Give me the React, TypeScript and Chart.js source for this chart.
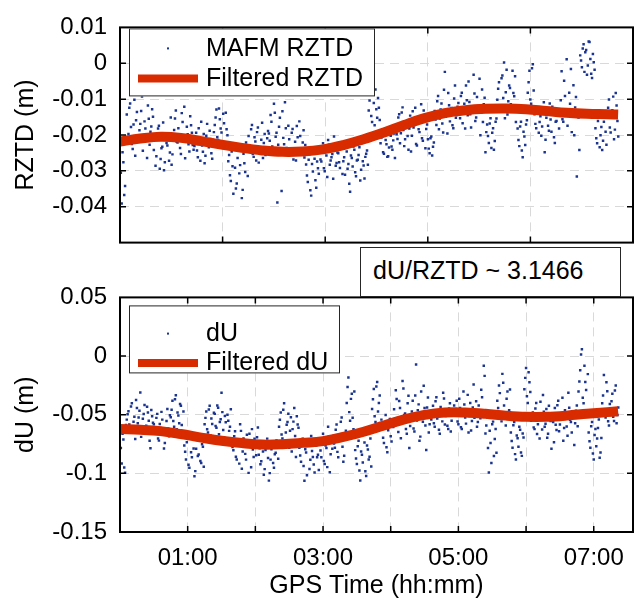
import React, { useEffect, useRef } from 'react';
import { Chart, registerables } from 'chart.js';

Chart.register(...registerables);

// ---------- DATA ----------
const SAMPLE_STEP_H = 0.025; // hours between scatter samples (set B is offset by half a step)
const X_MAX_H = 7.58; // right edge of the time axis (hours)

// MAFM RZTD scatter (mm), set A
const rztdScatterMm = [
  -22.4, -39.1, -27.6, -34.2,
  -14.3, -19.7, -11.2, -22.5, -17.1, -25.8, -13.6, -20.4, -16.9, -9.3, -21.7, -18.2, -26.4, -15.5, -19.1, -12.8,
  -24.2, -28.6, -20.1, -17.4, -26.7, -23.3, -29.8, -19.5, -22.9, -27.2, -15.1, -25.4,
  -18.6, -13.2, -22.1, -20.7, -25.3, -16.4, -12.1, -21.5, -19.8, -24.6, -17.3, -22.8,
  -23.1, -19.4, -26.2, -21.6, -16.3, -24.7, -27.9, -20.2, -22.4, -18.8, -25.1, -21.3,
  -17.2, -12.9, -21.4, -15.6, -19.3, -14.1, -23.5, -18.4,
  -27.3, -31.2, -24.6, -36.4, -29.1, -33.5, -22.7, -28.4, -37.6, -25.2, -30.3, -23.8,
  -20.3, -24.5, -17.2, -26.1, -21.8, -19.2, -27.7, -23.4, -16.6, -22.2, -25.6, -20.9,
  -19.6, -14.4, -23.2, -11.3, -20.5, -38.8, -17.7, -25.3, -13.4, -22.6, -18.1, -24.3,
  -21.2, -25.5, -18.3, -23.7, -27.1, -20.6, -16.2, -24.4, -22.1, -26.3,
  -28.2, -33.1, -25.4, -36.9, -30.2, -26.6, -34.7, -29.3,
  -24.1, -27.4, -22.3, -30.1, -25.7, -21.4, -28.3, -26.2, -32.2, -23.6, -27.8,
  -25.1, -29.2, -22.4, -27.3, -31.1, -24.6, -28.1, -35.8, -26.4, -23.2, -30.4, -27.1, -25.6, -32.7, -22.2, -28.5, -26.1, -24.3,
  -13.2, -8.6, -16.4, -11.1, -7.3, -15.2, -12.4,
  -22.3, -19.1, -25.2, -21.4, -26.1, -23.5, -20.2, -24.1, -19.6,
  -17.4, -21.1, -14.2, -19.5, -12.3, -23.1, -16.5, -20.3, -18.2, -24.6, -13.4, -17.2, -22.5, -15.3, -19.2, -11.4, -21.6, -16.1, -18.3,
  -21.2, -25.1, -20.4, -23.3,
  -13.3, -17.2, -9.1, -15.4, -11.2, -19.3, -2.4, -14.1, -8.3, -16.2, -12.5, -18.1, -6.2, -14.4,
  -11.1, -15.3, -8.2, -13.4, -18.2, -10.3, -5.1, -14.2, -12.3, -3.2, -16.1, -9.4, -13.2, -20.1, -7.3, -11.4, -24.8,
  -17.1, -22.2, -15.3, -19.4, -24.1, -16.3,
  -10.2, -5.3, -12.1, -3.4, 0.2, -8.1, -14.3, -6.2, -11.4, -2.1, -9.2, -16.4,
  -18.2, -23.1, -16.3, -26.2, -20.4, -17.1,
  -8.2, -2.1, -11.3, -0.3,
  -14.2, -18.1, -12.3, -16.4, -20.2, -13.1, -24.8, -15.2, -17.4, -11.2, -19.1, -14.3, -22.2, -16.1, -13.4,
  -13.1, -2.2, -16.3, -9.1, 1.1, -14.2, -11.3, -19.2, -6.1, -12.3, -31.6, -15.1,
  2.2, -1.1, 5.3, 3.1, -3.2, 6.1, 1.2, -4.1, 0.3,
  -18.1, -22.3, -14.2, -20.1, -24.2, -16.3, -19.1,
  -15.2, -10.1, -19.3, -13.1, -21.2, -8.3, -16.1,
];

// MAFM RZTD scatter (mm), set B (half-step later)
const rztdScatterMmB = [
  -30.5, -24.8, -36.7, -21.3,
  -20.6, -12.4, -17.8, -23.9, -10.2, -15.9, -21.1, -18.7, -13.3, -24.4, -16.2, -19.9, -11.8, -22.7, -17.6, -14.9,
  -21.3, -25.9, -18.2, -29.4, -23.7, -16.5, -27.6, -22.2, -19.8, -24.9, -28.3, -20.7,
  -15.4, -21.9, -18.1, -23.6, -13.9, -20.3, -26.5, -17.7, -22.6, -14.8, -19.4, -24.1,
  -20.8, -24.3, -18.1, -27.2, -22.9, -19.7, -25.8, -16.9, -23.4, -21.1, -26.6, -19.2,
  -15.1, -20.6, -12.6, -18.2, -22.4, -16.7, -13.8, -20.1,
  -25.6, -32.8, -28.7, -23.1, -34.9, -26.4, -30.7, -24.2, -35.3, -27.9, -22.1, -31.4,
  -22.9, -18.4, -25.3, -20.6, -27.1, -17.9, -23.8, -21.3, -26.4, -19.7, -24.2, -18.9,
  -21.6, -16.3, -24.9, -13.8, -19.4, -22.7, -15.2, -35.6, -20.8, -10.9, -23.6, -17.4,
  -23.9, -19.4, -26.8, -21.9, -17.5, -25.1, -20.3, -24.6, -18.7, -22.8,
  -31.3, -26.9, -35.4, -28.1, -24.7, -32.6, -27.4, -30.8,
  -26.8, -23.1, -29.3, -24.5, -31.7, -22.7, -27.1, -25.3, -20.4, -28.6, -24.9,
  -27.6, -23.8, -30.9, -26.2, -22.1, -29.4, -33.6, -25.7, -28.8, -24.1, -31.5, -26.9, -23.4, -29.7, -27.3, -32.1, -25.2, -28.3,
  -10.4, -14.7, -8.1, -17.3, -12.8, -9.7, -15.8,
  -20.7, -24.8, -18.9, -22.6, -25.9, -19.8, -23.2, -21.5, -26.4,
  -19.8, -15.1, -22.3, -13.7, -18.6, -21.2, -16.8, -24.1, -14.6, -20.2, -17.9, -12.4, -22.9, -18.4, -15.6, -20.9, -13.2, -23.7, -17.1,
  -23.8, -20.9, -25.7, -22.1,
  -15.7, -10.6, -18.4, -12.9, -16.8, -7.4, -14.9, -19.6, -11.7, -13.5, -17.3, -9.8, -15.2, -12.1,
  -13.8, -9.1, -16.7, -11.3, -6.2, -14.5, -10.8, -17.9, -12.6, -8.4, -15.1, -11.9, -4.3, -13.7, -16.4, -9.6, -19.2,
  -20.3, -16.8, -23.6, -18.1, -21.7, -15.4,
  -7.1, -12.8, -4.2, -9.7, -15.3, -1.8, -10.6, -6.9, -13.4, -8.3, -3.6, -11.9,
  -21.4, -17.6, -24.3, -19.1, -22.8, -15.9,
  -5.3, -10.1, -1.4, -7.6,
  -16.9, -12.7, -19.4, -14.8, -17.6, -10.9, -21.3, -13.6, -18.8, -15.7, -12.1, -20.6, -16.3, -14.1, -18.2,
  -10.3, -15.6, -4.9, -12.8, -17.4, -8.2, -1.6, -13.9, -20.1, -9.4, -14.7, -24.2,
  0.8, 4.1, -2.4, 3.7, -0.6, 5.9, -2.9, 2.6, -1.8,
  -20.9, -16.1, -23.4, -17.8, -21.6, -14.9, -22.7,
  -12.4, -17.9, -14.6, -9.3, -18.5, -11.8, -20.4,
];

// dU scatter (mm), set A
const duScatterMm = [
  -62.3, -91.6, -71.2, -99.4,
  -54.2, -47.1, -62.4, -40.3, -56.1, -70.8, -44.2, -52.3, -31.1, -60.2, -49.4, -66.1, -43.3, -55.2, -78.6, -51.3,
  -58.1, -66.2, -49.3, -72.1, -61.4, -54.2, -78.8, -63.1, -45.2, -68.3,
  -52.1, -38.2, -60.3, -33.4, -48.1, -57.2, -42.3, -65.1,
  -76.2, -88.1, -70.3, -95.2, -82.1, -66.3, -102.4, -79.1, -85.2, -72.3, -91.1, -77.4,
  -58.2, -47.3, -65.1, -42.4, -53.2, -70.1, -49.3, -61.2, -44.1, -56.3, -31.2, -63.1, -51.2, -74.3, -55.1, -60.2,
  -72.1, -80.3, -64.2, -88.1, -75.3, -58.2, -96.1, -70.2, -83.4, -67.1, -99.6, -74.2, -62.3, -86.1, -78.2, -69.3,
  -84.1, -92.2, -76.3, -101.1, -80.2, -70.4, -106.2, -88.3, -73.1, -95.2, -82.4, -78.1,
  -60.2, -48.1, -70.3, -40.2, -65.1, -56.3, -78.2, -52.1, -62.3, -44.2, -86.1, -58.3,
  -78.1, -90.2, -70.4, -106.3, -82.2, -74.1, -96.3, -68.2, -86.1, -99.2, -76.3, -84.2,
  -74.1, -86.3, -66.2, -92.1, -78.3, -60.2, -99.1, -72.4,
  -68.2, -78.1, -58.3, -86.2, -72.1, -52.3, -90.1, -66.2,
  -40.1, -18.3, -55.2, -32.1, -62.3,
  -80.2, -92.1, -72.3, -106.1, -84.2, -66.1, -98.3, -76.2, -88.1, -70.3,
  -45.2, -28.1, -56.3, -22.2, -40.1, -60.3,
  -62.1, -74.2, -50.3, -82.1, -58.2, -68.3, -54.1,
  -45.3, -29.1, -58.2, -38.3, -70.1, -21.2, -50.3, -62.1, -40.2, -78.3,
  -52.1, -38.2, -64.3, -7.2, -46.1, -72.2, -30.3, -56.1, -44.2, -80.1, -35.3, -58.2,
  -54.1, -42.3, -60.2, -35.1, -50.3, -66.2, -46.1, -31.2, -58.3, -48.1, -62.2, -40.3, -55.1, -50.2,
  -50.3, -38.1, -58.2, -44.3, -62.1, -30.2, -52.3, -46.1, -65.2, -40.1, -55.3, -24.2, -48.1, -60.3, -42.2, -53.1, -35.2, -8.3,
  -66.1, -52.2, -99.3, -74.1, -58.2, -85.3, -62.1,
  -38.2, -25.1, -50.3, -15.2, -42.1, -59.3, -30.2, -46.1,
  -65.2, -78.1, -56.3, -88.2, -70.1, -60.3, -82.2, -66.1,
  -28.3, -10.2, -40.1, -22.3,
  -55.1, -48.2, -62.3, -40.1, -58.2, -70.3, -50.1, -33.2, -60.3, -45.1, -66.2, -52.3, -79.1, -56.2, -44.3, -63.1, -38.2, -58.3, -50.1, -72.2, -46.3, -60.1, -31.2, -54.3, -65.1, -48.2, -57.3, -42.1,
  -30.2, -12.1, 5.8, -40.3, -22.1, -46.2,
  -65.1, -78.2, -56.3, -88.1, -62.2, -70.3, -54.1, -82.2,
  -40.2, -16.1, -52.3, -30.1, -59.2,
  -45.1, -32.2, -55.3, -25.1, -50.2,
];

// dU scatter (mm), set B (half-step later)
const duScatterMmB = [
  -78.4, -66.2, -95.1, -58.7,
  -49.6, -58.3, -43.1, -64.7, -51.8, -37.4, -57.2, -46.6, -68.9, -53.4, -41.7, -59.5, -48.2, -72.3, -45.9, -56.8,
  -63.4, -52.7, -70.2, -57.9, -47.6, -66.8, -74.1, -55.3, -61.7, -50.4,
  -45.7, -55.3, -36.8, -62.4, -50.6, -40.9, -58.7, -47.2,
  -81.6, -73.4, -92.7, -68.9, -86.3, -78.8, -98.1, -71.6, -83.9, -89.4, -75.2, -94.3,
  -52.7, -62.4, -45.6, -67.8, -57.9, -48.4, -59.6, -42.2, -66.7, -53.9, -47.8, -69.2, -56.4, -50.1, -63.8, -45.3,
  -77.6, -68.4, -85.9, -73.2, -91.7, -63.8, -81.4, -71.6, -88.3, -76.9, -66.2, -94.8, -79.7, -70.5, -84.6, -60.9,
  -78.6, -89.7, -81.3, -96.4, -74.8, -86.9, -99.8, -79.4, -91.2, -83.7, -71.9, -87.6,
  -54.3, -66.9, -45.7, -72.4, -58.6, -49.2, -63.7, -81.3, -55.9, -68.1, -51.4, -61.2,
  -84.7, -73.6, -93.8, -79.4, -101.6, -71.2, -88.5, -80.9, -92.4, -75.8, -86.3, -97.1,
  -80.6, -70.9, -89.4, -76.2, -94.7, -68.3, -83.8, -79.1,
  -74.6, -62.8, -81.7, -69.4, -56.1, -77.3, -84.9, -63.7,
  -26.4, -47.8, -36.5, -52.6, -30.2,
  -87.4, -76.9, -97.6, -81.3, -90.8, -73.7, -102.2, -79.6, -85.9, -94.1,
  -36.8, -51.4, -25.9, -47.3, -33.6, -54.2,
  -69.7, -57.4, -77.8, -63.2, -53.6, -72.9, -60.4,
  -53.4, -36.7, -64.8, -44.2, -57.1, -27.6, -48.9, -66.3, -33.8, -59.7,
  -47.3, -61.8, -33.6, -54.9, -41.2, -68.7, -50.6, -25.4, -59.3, -43.8, -65.1, -49.2,
  -47.8, -57.3, -38.6, -53.2, -62.9, -43.4, -55.7, -36.2, -51.1, -59.4, -44.7, -64.3, -48.6, -42.1,
  -45.2, -55.8, -36.4, -60.7, -48.9, -41.3, -57.6, -33.1, -51.2, -63.4, -43.9, -52.7, -38.6, -56.3, -46.8, -28.7, -49.4, -16.9,
  -59.3, -78.4, -63.6, -91.2, -55.9, -70.7, -82.4,
  -44.3, -31.6, -55.7, -22.8, -47.9, -36.4, -52.1, -28.6,
  -72.4, -58.9, -83.6, -67.7, -77.3, -62.8, -85.1, -69.4,
  -18.6, -34.2, -13.9, -30.7,
  -51.6, -60.8, -44.7, -66.4, -53.1, -38.9, -62.6, -47.4, -57.8, -69.6, -42.3, -55.4, -49.7, -73.4, -58.6, -41.9, -64.2, -53.7, -35.6, -61.3, -48.8, -67.9, -44.1, -56.2, -51.3, -75.8, -46.7, -59.9,
  -21.7, 1.4, -35.6, -8.3, -28.9, -15.4,
  -72.6, -59.8, -83.1, -67.3, -76.9, -61.4, -86.7, -69.8,
  -33.7, -47.9, -22.4, -55.6, -40.8,
  -38.6, -51.7, -29.4, -57.2, -43.9,
];

// Filtered curves (m), sampled at these hours
const filterHours = [0, 0.3, 0.6, 0.9, 1.2, 1.5, 1.8, 2.1, 2.4, 2.7, 3.0, 3.3, 3.6, 3.9, 4.2, 4.5, 4.8, 5.1, 5.4, 5.7, 6.0, 6.3, 6.6, 6.9, 7.2, 7.36];
const rztdFiltered = [-0.0218, -0.0210, -0.0205, -0.0208, -0.0217, -0.0227, -0.0236, -0.0243, -0.0247, -0.0246, -0.0240, -0.0228, -0.0212, -0.0193, -0.0172, -0.0153, -0.0139, -0.0131, -0.0127, -0.0126, -0.0128, -0.0133, -0.0138, -0.0141, -0.0142, -0.0143];
const duFiltered = [-0.0622, -0.0628, -0.0640, -0.0665, -0.0695, -0.0722, -0.0742, -0.0755, -0.0752, -0.0740, -0.0725, -0.0690, -0.0645, -0.0592, -0.0540, -0.0502, -0.0482, -0.0482, -0.0492, -0.0508, -0.0518, -0.0518, -0.0508, -0.0492, -0.0478, -0.0470];

// Tick labels
const rztdTickLabels = ['0.01', '0', '-0.01', '-0.02', '-0.03', '-0.04', '']; // 0.01 .. -0.05
const duTickLabels = ['0.05', '0', '-0.05', '-0.1', '-0.15']; // 0.05 .. -0.15
const timeTickLabels = ['', '01:00', '', '03:00', '', '05:00', '', '07:00'];
const annotationText = 'dU/RZTD ~ 3.1466';

// ---------- STYLE ----------
const FONT = "'Liberation Sans', Arial, Helvetica, sans-serif";
const DOT = '#1a348f';
const RED = '#d92b00';
const GRID = '#d9d9d9';
const LEGEND_LINE_WIDTH = 8;

type LegendCfg = { x: number; y: number; w: number; h: number; rows: number[]; markerX: number; textX: number };

function matlabPlugin(cfg: LegendCfg) {
  return {
    id: 'matlabAxes',
    afterDatasetsDraw(chart: any) {
      const { ctx, chartArea: a, scales } = chart;
      ctx.save();
      ctx.strokeStyle = '#000';
      ctx.lineWidth = 1.5;
      const tl = 6;
      const xs = scales.x;
      xs.ticks.forEach((t: any) => {
        const px = xs.getPixelForValue(t.value);
        if (px <= a.left + 1 || px >= a.right - 1) return;
        ctx.beginPath();
        ctx.moveTo(px, a.bottom);
        ctx.lineTo(px, a.bottom - tl);
        ctx.moveTo(px, a.top);
        ctx.lineTo(px, a.top + tl);
        ctx.stroke();
      });
      const ys = scales.y;
      ys.ticks.forEach((t: any) => {
        const py = ys.getPixelForValue(t.value);
        if (py <= a.top + 1 || py >= a.bottom - 1) return;
        ctx.beginPath();
        ctx.moveTo(a.left, py);
        ctx.lineTo(a.left + tl, py);
        ctx.moveTo(a.right, py);
        ctx.lineTo(a.right - tl, py);
        ctx.stroke();
      });
      ctx.lineWidth = 2;
      ctx.strokeRect(a.left, a.top, a.right - a.left, a.bottom - a.top);
      ctx.restore();
    },
    afterDraw(chart: any) {
      const { ctx, chartArea: a } = chart;
      const bx = a.left + cfg.x;
      const by = a.top + cfg.y;
      ctx.save();
      ctx.fillStyle = '#fff';
      ctx.fillRect(bx, by, cfg.w, cfg.h);
      ctx.strokeStyle = '#262626';
      ctx.lineWidth = 1;
      ctx.strokeRect(bx + 0.5, by + 0.5, cfg.w - 1, cfg.h - 1);
      chart.data.datasets.forEach((ds: any, i: number) => {
        const ty = by + cfg.rows[i];
        const my = ty - 0.5;
        const mx = a.left + cfg.markerX;
        if (ds.showLine) {
          ctx.strokeStyle = ds.borderColor;
          ctx.lineWidth = LEGEND_LINE_WIDTH;
          ctx.lineCap = 'butt';
          ctx.beginPath();
          ctx.moveTo(mx - 30, my);
          ctx.lineTo(mx + 30, my);
          ctx.stroke();
        } else {
          ctx.fillStyle = ds.backgroundColor;
          ctx.fillRect(mx - 1, my - 1, 2, 2);
        }
        ctx.fillStyle = '#000';
        ctx.font = `25px ${FONT}`;
        ctx.textBaseline = 'middle';
        ctx.textAlign = 'left';
        ctx.fillText(ds.label, a.left + cfg.textX, ty);
      });
      ctx.restore();
    },
  };
}

function gridOpts() {
  return { color: GRID, lineWidth: 1, drawTicks: false };
}

function scatterPoints(a: number[], b: number[], xScale: number) {
  const pa = a.map((v, i) => ({ x: i * SAMPLE_STEP_H * xScale, y: v / 1000 }));
  const pb = b.map((v, i) => ({ x: (i + 0.5) * SAMPLE_STEP_H * xScale, y: v / 1000 }));
  return pa.concat(pb);
}

function scatterDataset(label: string, data: any[]) {
  return {
    label,
    data,
    backgroundColor: DOT,
    borderWidth: 0,
    pointStyle: 'rect',
    pointRadius: 1.75,
    showLine: false,
    order: 1,
  };
}

function lineDataset(label: string, data: any[]) {
  return {
    label,
    data,
    showLine: true,
    borderColor: RED,
    backgroundColor: RED,
    borderWidth: 10,
    pointRadius: 0,
    tension: 0.4,
    fill: false,
    borderCapStyle: 'butt',
    order: 0,
  };
}

function buildTop(): any {
  return {
    type: 'scatter',
    data: {
      datasets: [
        scatterDataset('MAFM RZTD', scatterPoints(rztdScatterMm, rztdScatterMmB, 3600)),
        lineDataset('Filtered RZTD', filterHours.map((h, i) => ({ x: h * 3600, y: rztdFiltered[i] }))),
      ],
    },
    options: {
      responsive: false,
      animation: false,
      events: [],
      layout: { padding: { left: 0, right: 5, top: 23, bottom: 3 } },
      plugins: { legend: { display: false }, tooltip: { enabled: false } },
      scales: {
        x: {
          type: 'linear',
          min: 0,
          max: X_MAX_H * 3600,
          ticks: { display: false, stepSize: 5000, includeBounds: false },
          grid: gridOpts(),
          border: { display: false, dash: [9, 6] },
          afterFit: (s: any) => { s.height = 0; },
        },
        y: {
          type: 'linear',
          min: -0.05,
          max: 0.01,
          ticks: {
            stepSize: 0.01,
            padding: 13,
            color: '#000',
            font: { family: FONT, size: 24 },
            callback: (v: number) => rztdTickLabels[Math.round((0.01 - v) / 0.01)] ?? '',
          },
          grid: gridOpts(),
          border: { display: false, dash: [9, 6] },
          title: { display: true, text: 'RZTD (m)', color: '#000', font: { family: FONT, size: 25 }, padding: { top: 11, bottom: 0 } },
          afterFit: (s: any) => { s.width = 120; },
        },
      },
    },
    plugins: [matlabPlugin({ x: 9, y: 1, w: 246, h: 68, rows: [20.5, 50.5], markerX: 48, textX: 86 })],
  };
}

function buildBottom(): any {
  return {
    type: 'scatter',
    data: {
      datasets: [
        scatterDataset('dU', scatterPoints(duScatterMm, duScatterMmB, 1)),
        lineDataset('Filtered dU', filterHours.map((h, i) => ({ x: h, y: duFiltered[i] }))),
      ],
    },
    options: {
      responsive: false,
      animation: false,
      events: [],
      layout: { padding: { left: 0, right: 5, top: 22, bottom: 0 } },
      plugins: { legend: { display: false }, tooltip: { enabled: false } },
      scales: {
        x: {
          type: 'linear',
          min: 0,
          max: X_MAX_H,
          ticks: {
            stepSize: 1,
            includeBounds: false,
            padding: 12,
            maxRotation: 0,
            autoSkip: false,
            color: '#000',
            font: { family: FONT, size: 24 },
            callback: (v: number) => {
              const h = Math.round(v);
              if (Math.abs(v - h) > 1e-6) return '';
              return timeTickLabels[h] ?? '';
            },
          },
          grid: gridOpts(),
          border: { display: false, dash: [9, 6] },
          title: { display: true, text: 'GPS Time (hh:mm)', color: '#000', font: { family: FONT, size: 25 }, padding: { top: 0, bottom: 3 } },
          afterFit: (s: any) => { s.height = 72; },
        },
        y: {
          type: 'linear',
          min: -0.15,
          max: 0.05,
          ticks: {
            stepSize: 0.05,
            padding: 13,
            color: '#000',
            font: { family: FONT, size: 24 },
            callback: (v: number) => duTickLabels[Math.round((0.05 - v) / 0.05)] ?? '',
          },
          grid: gridOpts(),
          border: { display: false, dash: [9, 6] },
          title: { display: true, text: 'dU (m)', color: '#000', font: { family: FONT, size: 25 }, padding: { top: 11, bottom: 0 } },
          afterFit: (s: any) => { s.width = 120; },
        },
      },
    },
    plugins: [matlabPlugin({ x: 9, y: 8, w: 211, h: 68, rows: [28.7, 58], markerX: 48, textX: 86 })],
  };
}

export default function App() {
  const topRef = useRef<HTMLCanvasElement>(null);
  const botRef = useRef<HTMLCanvasElement>(null);

  useEffect(() => {
    const top = new Chart(topRef.current as HTMLCanvasElement, buildTop());
    const bot = new Chart(botRef.current as HTMLCanvasElement, buildBottom());
    return () => {
      top.destroy();
      bot.destroy();
    };
  }, []);

  return (
    <div style={{ position: 'absolute', left: 0, top: 0, width: 638, height: 604, background: '#fff', overflow: 'hidden' }}>
      <canvas ref={topRef} width={638} height={270} style={{ position: 'absolute', left: 0, top: 0, width: 638, height: 270 }} />
      <canvas ref={botRef} width={638} height={334} style={{ position: 'absolute', left: 0, top: 270, width: 638, height: 334 }} />
      <div
        style={{
          position: 'absolute',
          left: 360,
          top: 247,
          width: 261,
          height: 50,
          boxSizing: 'border-box',
          border: '1px solid #262626',
          background: '#fff',
          fontFamily: FONT,
          fontSize: 25,
          lineHeight: '44px',
          paddingLeft: 12,
          color: '#000',
          whiteSpace: 'nowrap',
          zIndex: 2,
        }}
      >
        {annotationText}
      </div>
    </div>
  );
}
